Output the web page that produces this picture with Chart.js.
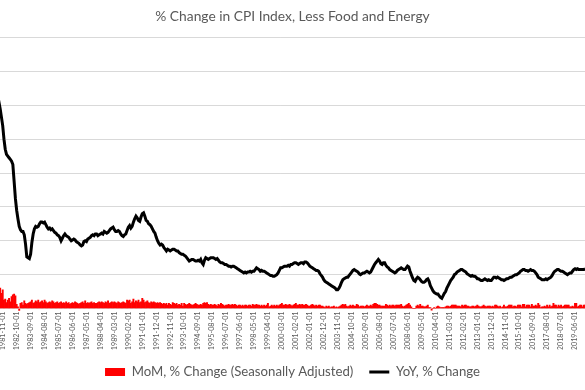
<!DOCTYPE html>
<html><head><meta charset="utf-8">
<script src="https://cdn.jsdelivr.net/npm/chart.js@4/dist/chart.umd.min.js"></script>
<style>
html,body{margin:0;padding:0;width:585px;height:390px;overflow:hidden;background:#fff}
#wrap{position:absolute;left:-36px;top:0;width:657px;height:390px}
</style></head><body><div id="wrap"><canvas id="c" width="657" height="390"></canvas></div>
<script>
// YoY % change, core CPI, monthly from 1980-01
const yoy1980s = [
 11.9,12.0,12.4,12.6,12.9,13.6,12.6,12.0,11.9,12.1,12.2,12.2,
 11.9,11.6,11.4,11.3,11.2,11.5,12.0,12.2,11.8,11.3,10.8,10.0,
 9.4,9.1,9.0,8.9,8.8,8.7,8.5,7.5,6.5,5.8,5.3,4.85,
 4.65,4.55,4.55,4.35,3.8,3.05,3.0,2.95,3.2,3.9,4.4,4.7,
 4.85,4.8,4.85,5.0,5.1,5.1,5.05,5.1,4.95,4.8,4.7,4.75,
 4.65,4.7,4.6,4.5,4.45,4.35,4.3,4.2,4.0,4.15,4.3,4.4,
 4.3,4.25,4.2,4.1,4.0,4.05,4.1,4.05,3.95,3.9,3.85,3.75,
 3.7,3.75,3.95,4.0,3.95,4.1,4.15,4.2,4.3,4.35,4.3,4.4,
 4.4,4.3,4.35,4.4,4.45,4.4,4.55,4.5,4.45,4.5,4.6,4.7,
 4.75,4.8,4.65,4.55,4.55,4.6,4.55,4.4,4.3,4.25,4.35,4.4
];
const yoy1990s = [
 4.6,4.8,4.9,4.75,4.85,5.1,5.3,5.45,5.35,5.2,5.15,5.4,
 5.6,5.65,5.45,5.2,5.15,5.0,4.95,4.85,4.7,4.55,4.45,4.2,
 4.0,3.85,3.75,3.8,3.75,3.6,3.5,3.4,3.5,3.45,3.4,3.45,
 3.5,3.5,3.45,3.4,3.4,3.3,3.25,3.2,3.2,3.15,3.1,3.0,
 2.9,2.8,2.85,2.9,2.9,2.85,2.8,2.8,2.85,2.8,2.9,2.7,
 2.6,2.85,3.0,2.95,2.9,2.95,3.0,3.0,3.0,2.95,2.9,2.95,
 2.85,2.75,2.7,2.7,2.65,2.6,2.6,2.55,2.5,2.5,2.45,2.5,
 2.5,2.45,2.4,2.35,2.3,2.25,2.2,2.15,2.1,2.15,2.1,2.15,
 2.15,2.2,2.15,2.2,2.2,2.3,2.4,2.35,2.3,2.2,2.25,2.2,
 2.2,2.15,2.1,2.05,2.0,1.95,1.95,1.9,1.9,1.95,2.0,2.1
];
const yoy2000s = [
 2.25,2.4,2.4,2.45,2.5,2.5,2.5,2.55,2.5,2.6,2.6,2.65,
 2.7,2.7,2.65,2.6,2.65,2.7,2.7,2.65,2.75,2.75,2.7,2.6,
 2.5,2.45,2.4,2.35,2.3,2.25,2.25,2.2,2.05,1.95,1.85,1.7,
 1.6,1.55,1.5,1.45,1.4,1.35,1.3,1.25,1.2,1.1,1.1,1.2,
 1.35,1.55,1.7,1.75,1.8,1.85,1.85,1.95,2.05,2.15,2.25,2.3,
 2.25,2.2,2.15,2.05,2.0,2.05,2.1,2.1,2.15,2.2,2.15,2.1,
 2.15,2.3,2.45,2.6,2.7,2.8,2.9,2.8,2.65,2.6,2.7,2.7,
 2.55,2.45,2.4,2.3,2.25,2.2,2.15,2.1,2.15,2.25,2.3,2.35,
 2.4,2.35,2.3,2.3,2.4,2.5,2.45,2.2,2.0,1.8,1.65,1.6,
 1.75,1.85,1.8,1.7,1.6,1.55,1.55,1.6,1.7,1.75,1.6,1.35
];
const yoy2010s = [
 1.2,1.05,0.95,0.9,0.85,0.85,0.75,0.65,0.6,0.75,0.9,1.0,
 1.2,1.35,1.5,1.65,1.75,1.85,2.0,2.05,2.15,2.2,2.25,2.3,
 2.3,2.25,2.2,2.15,2.05,2.0,1.95,1.9,1.95,1.9,1.9,1.85,
 1.75,1.75,1.7,1.65,1.65,1.7,1.75,1.7,1.65,1.7,1.65,1.65,
 1.75,1.85,1.85,1.8,1.85,1.8,1.75,1.7,1.7,1.65,1.7,1.75,
 1.75,1.8,1.85,1.85,1.9,1.95,2.0,2.0,2.05,2.1,2.2,2.25,
 2.3,2.3,2.25,2.25,2.2,2.25,2.3,2.25,2.25,2.2,2.1,2.0,
 1.85,1.8,1.75,1.7,1.7,1.7,1.75,1.7,1.75,1.8,1.85,1.95,
 2.1,2.2,2.25,2.3,2.3,2.25,2.2,2.2,2.15,2.1,2.05,2.0,
 2.05,2.1,2.1,2.2,2.3,2.35,2.3,2.35,2.3,2.3,2.3,2.3
];
const yoy2020s = [2.3,2.35];

// MoM % change (seasonally adjusted)
const mom1980s = [
 1.0,1.1,1.3,1.2,1.1,1.3,0.6,0.7,1.0,0.9,0.9,0.9,
 0.9,0.8,0.6,0.7,0.8,1.0,1.1,0.9,1.2,0.9,1.1,0.5,
 0.55,0.35,0.5,0.6,0.4,0.7,0.8,0.85,0.75,0.25,0.1,-0.12,
 0.3,0.35,0.2,0.45,0.3,0.25,0.3,0.35,0.4,0.5,0.3,0.35,
 0.45,0.4,0.5,0.35,0.4,0.45,0.35,0.5,0.4,0.3,0.35,0.4,
 0.35,0.45,0.4,0.3,0.35,0.4,0.3,0.35,0.4,0.3,0.35,0.3,
 0.4,0.3,0.35,0.25,0.3,0.35,0.3,0.4,0.35,0.3,0.25,0.3,
 0.35,0.4,0.3,0.45,0.3,0.35,0.3,0.35,0.4,0.3,0.35,0.3,
 0.3,0.35,0.4,0.35,0.4,0.35,0.3,0.4,0.35,0.45,0.3,0.35,
 0.4,0.35,0.4,0.35,0.3,0.4,0.35,0.3,0.35,0.4,0.35,0.3
];
const mom1990s = [
 0.5,0.45,0.5,0.3,0.4,0.55,0.35,0.45,0.4,0.5,0.35,0.4,
 0.6,0.5,0.35,0.4,0.45,0.35,0.3,0.4,0.35,0.4,0.35,0.3,
 0.35,0.3,0.35,0.3,0.25,0.3,0.25,0.3,0.2,0.3,0.25,0.2,
 0.35,0.3,0.25,0.3,0.2,0.25,0.2,0.3,0.15,0.3,0.25,0.2,
 0.25,0.3,0.25,0.2,0.2,0.25,0.3,0.25,0.2,0.2,0.25,0.2,
 0.3,0.35,0.3,0.35,0.25,0.2,0.25,0.2,0.2,0.25,0.2,0.15,
 0.25,0.2,0.3,0.25,0.2,0.15,0.2,0.2,0.25,0.2,0.2,0.25,
 0.2,0.25,0.2,0.15,0.2,0.2,0.15,0.2,0.15,0.2,0.2,0.15,
 0.2,0.2,0.15,0.25,0.2,0.2,0.25,0.2,0.2,0.15,0.2,0.15,
 0.2,0.15,0.2,0.3,0.1,0.15,0.2,0.15,0.2,0.15,0.2,0.15
];
const mom2000s = [
 0.2,0.25,0.3,0.2,0.2,0.25,0.2,0.2,0.25,0.2,0.15,0.2,
 0.25,0.3,0.2,0.2,0.25,0.2,0.25,0.2,0.2,0.25,0.2,0.15,
 0.15,0.2,0.25,0.2,0.15,0.2,0.15,0.2,0.2,0.15,0.15,0.1,
 0.05,0.15,0.1,0.15,0.05,0.1,0.1,0.15,0.05,0.1,0.05,0.1,
 0.15,0.2,0.25,0.2,0.25,0.15,0.1,0.15,0.2,0.15,0.2,0.15,
 0.15,0.25,0.2,0.1,0.15,0.15,0.15,0.1,0.15,0.2,0.15,0.15,
 0.2,0.15,0.25,0.3,0.3,0.25,0.2,0.2,0.15,0.15,0.15,0.15,
 0.25,0.2,0.15,0.2,0.15,0.2,0.2,0.15,0.2,0.2,0.2,0.2,
 0.25,0.15,0.1,0.15,0.2,0.25,0.3,0.2,0.1,0.0,0.0,0.0,
 0.15,0.2,0.15,0.25,0.15,0.15,0.1,0.1,0.15,0.2,0.05,0.05
];
const mom2010s = [
 -0.1,0.0,0.05,0.0,0.1,0.15,0.1,0.05,0.05,0.05,0.05,0.1,
 0.15,0.15,0.1,0.15,0.2,0.2,0.2,0.2,0.15,0.15,0.15,0.1,
 0.2,0.15,0.2,0.2,0.15,0.15,0.1,0.1,0.15,0.15,0.1,0.15,
 0.2,0.15,0.1,0.1,0.15,0.2,0.15,0.1,0.15,0.15,0.15,0.1,
 0.15,0.1,0.2,0.2,0.15,0.1,0.15,0.05,0.1,0.2,0.1,0.1,
 0.15,0.2,0.2,0.2,0.1,0.15,0.15,0.1,0.2,0.2,0.2,0.1,
 0.25,0.25,0.1,0.2,0.2,0.2,0.1,0.25,0.15,0.15,0.2,0.15,
 0.3,0.2,0.05,0.1,0.1,0.15,0.1,0.2,0.1,0.2,0.1,0.15,
 0.3,0.2,0.2,0.1,0.2,0.15,0.2,0.1,0.15,0.2,0.2,0.2,
 0.2,0.1,0.1,0.15,0.1,0.3,0.3,0.1,0.15,0.2,0.2,0.1
];
const mom2020s = [0.2,0.2];

const yoy = [...yoy1980s, ...yoy1990s, ...yoy2000s, ...yoy2010s, ...yoy2020s];
const mom = [...mom1980s, ...mom1990s, ...mom2000s, ...mom2010s, ...mom2020s];

// Category labels: first day of each month from 1980-01
const startYear = 1980;
const categories = yoy.map((_, i) => {
  const y = startYear + Math.floor(i / 12);
  const m = (i % 12) + 1;
  return y + '-' + String(m).padStart(2, '0') + '-01';
});
const labelEvery = 11;

const FONT = 'Lato, "Open Sans", "Liberation Sans", sans-serif';

new Chart(document.getElementById('c'), {
  data: {
    labels: categories,
    datasets: [
      {
        type: 'bar',
        label: 'MoM, % Change (Seasonally Adjusted)',
        data: mom,
        backgroundColor: '#ff0000',
        borderWidth: 0,
        barPercentage: 1,
        categoryPercentage: 1,
        pointStyle: 'rect',
        clip: {left: 0, top: 0, right: 0, bottom: 4}
      },
      {
        type: 'line',
        label: 'YoY, % Change',
        data: yoy,
        borderColor: '#000000',
        backgroundColor: '#000000',
        borderWidth: 3,
        pointRadius: 0,
        tension: 0,
        fill: false,
        pointStyle: 'line'
      }
    ]
  },
  options: {
    responsive: false,
    animation: false,
    layout: {padding: {left: 10.15, right: 10.15, top: 0, bottom: 1.4}},
    plugins: {
      title: {
        display: true,
        text: '% Change in CPI Index, Less Food and Energy',
        color: '#595959',
        font: {family: FONT, size: 13.8, weight: 'normal'},
        padding: {top: 8.2, bottom: 12.74}
      },
      legend: {
        position: 'bottom',
        labels: {
          usePointStyle: true,
          pointStyleWidth: 20,
          boxHeight: 8,
          color: '#595959',
          font: {family: FONT, size: 13.2},
          padding: 16
        }
      },
      tooltip: {enabled: false}
    },
    scales: {
      x: {
        type: 'category',
        offset: true,
        grid: {display: false, drawTicks: false},
        border: {display: false},
        ticks: {
          autoSkip: false,
          minRotation: 90,
          maxRotation: 90,
          padding: 3,
          color: '#595959',
          font: {family: FONT, size: 7.2},
          callback: (v, i) => (i % labelEvery === 0 ? categories[i] : null)
        },
        afterFit: s => { s.height = 40.9; }
      },
      y: {
        position: 'right',
        min: 0,
        max: 16,
        ticks: {display: false, stepSize: 2},
        grid: {color: '#d9d9d9', lineWidth: 1, drawTicks: false},
        border: {display: false},
        afterFit: s => { s.width = 25.05; }
      }
    }
  }
});
</script>
</body></html>
